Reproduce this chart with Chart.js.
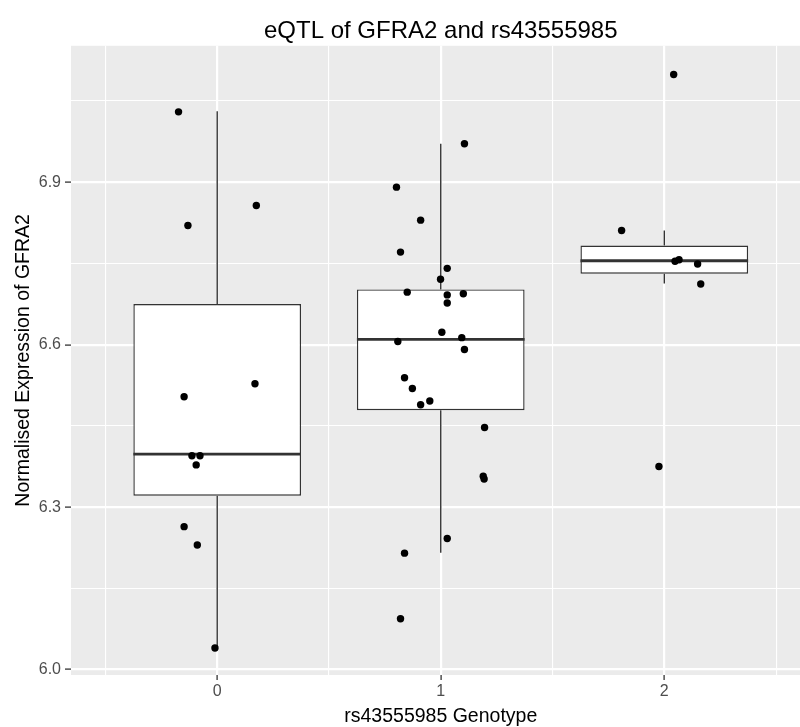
<!DOCTYPE html>
<html>
<head>
<meta charset="utf-8">
<script src="https://cdn.jsdelivr.net/npm/chart.js@4/dist/chart.umd.min.js"></script>
<style>
  body { margin: 0; background: #fff; }
  #wrap { width: 800px; height: 727px; overflow: hidden; }
</style>
</head>
<body>
<div id="wrap"><canvas id="eqtl" width="820" height="727"></canvas></div>
<script>
// Genotype groups and boxplot stats
const genotypes = [0, 1, 2];
const boxLower  = [6.040, 6.216, 6.713];
const boxQ1     = [6.321, 6.479, 6.731];
const boxMedian = [6.398, 6.610, 6.755];
const boxQ3     = [6.675, 6.702, 6.783];
const boxUpper  = [7.031, 6.971, 6.811];

// Jittered sample points (x = genotype + jitter, y = expression)
const pointX = [-0.173, -0.131, 0.175, 0.169, -0.148, -0.113, -0.077, -0.094, -0.148, -0.089, -0.010,
  1.106, 0.802, 0.910, 0.820, 1.029, 0.999, 0.850, 1.029, 1.101, 1.029, 1.005, 1.094, 0.808, 1.106,
  0.838, 0.873, 0.951, 0.910, 1.196, 1.190, 1.194, 1.029, 0.838, 0.820,
  2.042, 1.809, 2.048, 2.066, 2.149, 2.163, 1.976];
const pointY = [7.030, 6.820, 6.857, 6.528, 6.504, 6.395, 6.395, 6.378, 6.264, 6.230, 6.040,
  6.971, 6.891, 6.830, 6.771, 6.741, 6.721, 6.697, 6.692, 6.694, 6.677, 6.623, 6.613, 6.606, 6.591,
  6.539, 6.519, 6.496, 6.489, 6.447, 6.357, 6.352, 6.242, 6.215, 6.094,
  7.099, 6.811, 6.754, 6.757, 6.749, 6.712, 6.375];

// Axis ticks
const xMajor = [0, 1, 2];
const xMinor = [-0.5, 0.5, 1.5, 2.5];
const yMajor = [6.0, 6.3, 6.6, 6.9];
const yMinor = [6.15, 6.45, 6.75, 7.05];

const BOX_HALF = 0.375;
const TICK_STEP = 0.5; // bar ruler measures spacing between x ticks
const INK = '#333333';

Chart.defaults.font.family = '"Liberation Sans", Arial, sans-serif';

// median segments and whiskers built from the stats
const medianData = [];
const whiskerData = [];
genotypes.forEach((g, i) => {
  medianData.push({x: g - BOX_HALF, y: boxMedian[i]}, {x: g + BOX_HALF, y: boxMedian[i]}, {x: g, y: null});
  whiskerData.push({x: g, y: boxQ3[i]}, {x: g, y: boxUpper[i]}, {x: g, y: null});
  whiskerData.push({x: g, y: boxQ1[i]}, {x: g, y: boxLower[i]}, {x: g, y: null});
});

// grey panel like ggplot
const panelBg = {
  id: 'panelBg',
  beforeDraw(chart) {
    const {ctx, chartArea: a} = chart;
    ctx.save();
    ctx.fillStyle = '#EBEBEB';
    ctx.fillRect(a.left, a.top, a.right - a.left, a.bottom - a.top);
    ctx.restore();
  }
};

function setTicks(major, minor) {
  return (axis) => {
    axis.ticks = major.concat(minor).sort((a, b) => a - b).map(v => ({value: v}));
  };
}

const isMajor = (list, c) => !!(c.tick && list.includes(c.tick.value));

new Chart(document.getElementById('eqtl'), {
  type: 'scatter',
  data: {
    datasets: [
      {
        type: 'scatter',
        data: pointX.map((x, i) => ({x: x, y: pointY[i]})),
        pointRadius: 3.7,
        pointBackgroundColor: '#000',
        pointBorderWidth: 0,
        order: 0
      },
      {
        type: 'line',
        data: medianData,
        borderColor: INK,
        borderWidth: 2.8,
        pointRadius: 0,
        spanGaps: false,
        order: 1
      },
      {
        type: 'line',
        data: whiskerData,
        borderColor: INK,
        borderWidth: 1.4,
        pointRadius: 0,
        spanGaps: false,
        order: 2
      },
      {
        type: 'bar',
        data: genotypes.map((g, i) => ({x: g, y: [boxQ1[i], boxQ3[i]]})),
        backgroundColor: '#ffffff',
        borderColor: INK,
        borderWidth: 1.4,
        borderSkipped: false,
        categoryPercentage: 1,
        barPercentage: 2 * BOX_HALF / TICK_STEP,
        order: 3
      }
    ]
  },
  options: {
    responsive: false,
    animation: false,
    layout: { padding: { left: 0, right: 9.5, top: 0, bottom: 0 } },
    plugins: {
      legend: { display: false },
      tooltip: { enabled: false },
      title: {
        display: true,
        text: 'eQTL of GFRA2 and rs43555985',
        fullSize: false,
        color: '#000',
        font: { size: 24, weight: 'normal' },
        padding: { top: 17, bottom: 0 }
      }
    },
    scales: {
      x: {
        type: 'linear',
        min: -0.654,
        max: 2.654,
        offset: false,
        border: { display: false },
        afterBuildTicks: setTicks(xMajor, xMinor),
        afterFit: (s) => { s.height = 52; },
        grid: {
          offset: false,
          color: '#ffffff',
          lineWidth: (c) => isMajor(xMajor, c) ? 2.2 : 1.1,
          tickColor: (c) => isMajor(xMajor, c) ? INK : 'rgba(0,0,0,0)',
          tickWidth: 1.3,
          tickLength: 5
        },
        ticks: {
          autoSkip: false,
          maxRotation: 0,
          padding: 2,
          color: '#4D4D4D',
          font: { size: 16 },
          callback: (v) => xMajor.includes(v) ? String(v) : ''
        },
        title: {
          display: true,
          text: 'rs43555985 Genotype',
          color: '#000',
          font: { size: 19.5 },
          padding: { top: 0, bottom: -1.5 }
        }
      },
      y: {
        min: 5.990,
        max: 7.152,
        border: { display: false },
        afterBuildTicks: setTicks(yMajor, yMinor),
        afterFit: (s) => { s.width = 71; },
        grid: {
          color: '#ffffff',
          lineWidth: (c) => isMajor(yMajor, c) ? 2.2 : 1.1,
          tickColor: (c) => isMajor(yMajor, c) ? INK : 'rgba(0,0,0,0)',
          tickWidth: 1.3,
          tickLength: 6
        },
        ticks: {
          autoSkip: false,
          padding: 4,
          color: '#4D4D4D',
          font: { size: 16 },
          callback: (v) => yMajor.includes(v) ? v.toFixed(1) : ''
        },
        title: {
          display: true,
          text: 'Normalised Expression of GFRA2',
          color: '#000',
          font: { size: 19.5 },
          padding: { top: 11.5, bottom: 0 }
        }
      }
    }
  },
  plugins: [panelBg]
});
</script>
</body>
</html>
